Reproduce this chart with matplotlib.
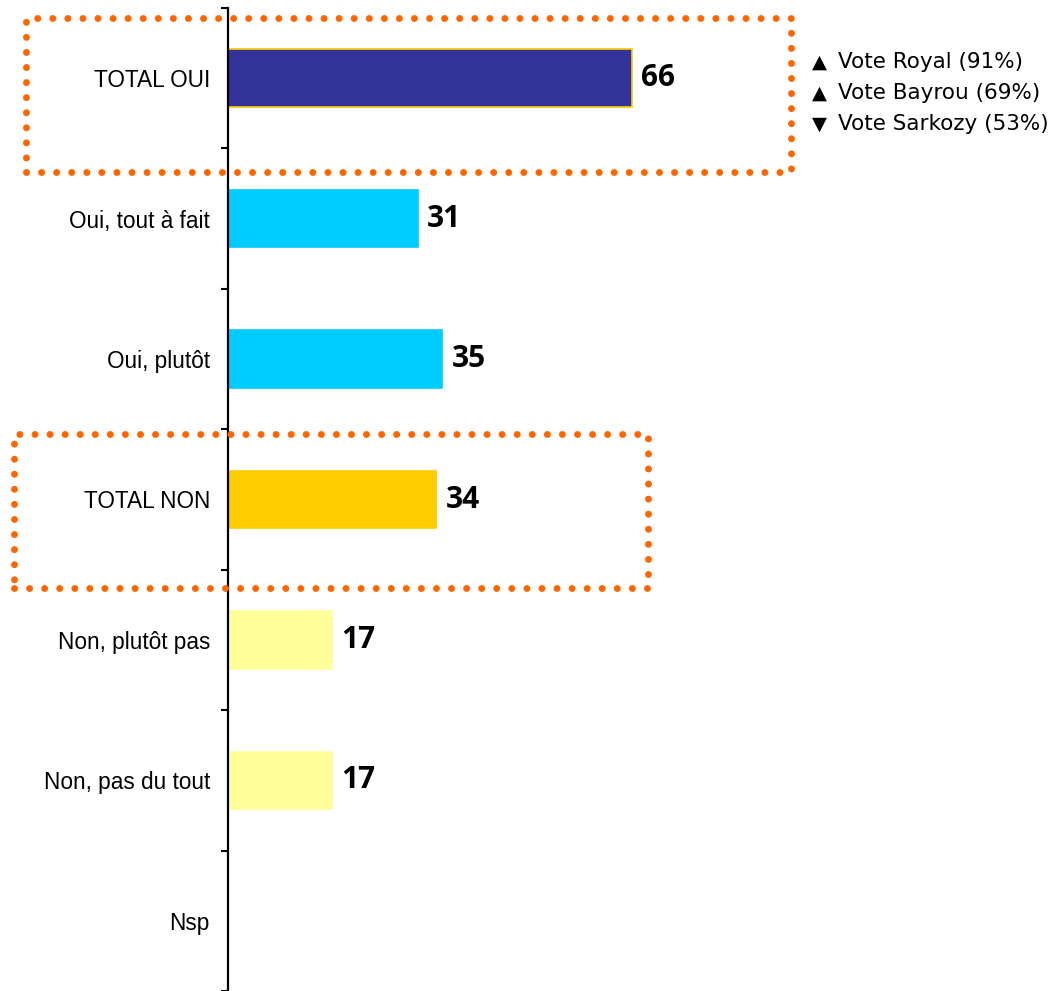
import matplotlib
matplotlib.use('Agg')
import matplotlib.pyplot as plt
from matplotlib.patches import Rectangle
import numpy as np

# data
categories = ['TOTAL OUI', 'Oui, tout à fait', 'Oui, plutôt', 'TOTAL NON',
              'Non, plutôt pas', 'Non, pas du tout', 'Nsp']
values = [66, 31, 35, 34, 17, 17, None]
colors = ['#333399', '#00CCFF', '#00CCFF', '#FFCC00', '#FFFF99', '#FFFF99', '#FFFF99']
edges = ['#FFCC00', '#00CCFF', '#00CCFF', '#FFCC00', '#FFFF99', '#FFFF99', '#FFFF99']
legend_items = [('▲', 'Vote Royal (91%)'), ('▲', 'Vote Bayrou (69%)'), ('▼', 'Vote Sarkozy (53%)')]

W, H = 1055, 991
fig = plt.figure(figsize=(W / 100, H / 100), dpi=100)
ax = fig.add_axes([228 / W, 0, 1 - 228 / W, 1 - 8 / H])

y = np.arange(len(categories))
for i, v in enumerate(values):
    if v is None:
        continue
    ax.barh(y[i], v, height=0.41, color=colors[i], edgecolor=edges[i], linewidth=1.2)
    ax.text(v + 1.5, y[i], str(v), va='center', ha='left', fontsize=21.5,
            fontweight='bold', family=['Open Sans', 'DejaVu Sans'])

ax.set_xlim(0, 135)
ax.set_ylim(len(categories) - 0.5, -0.5)

for s in ['top', 'right', 'bottom']:
    ax.spines[s].set_visible(False)
ax.spines['left'].set_linewidth(1.6)
ax.set_xticks([])

# ticks at category boundaries, labels at centers
ax.set_yticks(np.arange(-0.5, len(categories)))
ax.set_yticklabels([])
ax.tick_params(axis='y', which='major', length=5, width=1.5, direction='out')
ax.set_yticks(y, minor=True)
ax.set_yticklabels(categories, minor=True, fontsize=16.3,
                   family=['Liberation Sans', 'DejaVu Sans'])
ax.tick_params(axis='y', which='minor', length=0, pad=13)

# dotted highlight boxes
def dotted_box(x0, y0, x1, y1):
    r = Rectangle((x0 / W, 1 - y1 / H), (x1 - x0) / W, (y1 - y0) / H,
                  transform=fig.transFigure, fill=False, edgecolor='#FF6600',
                  linewidth=5, linestyle=(0, (0.01, 2.16)))
    r.set_capstyle('round')
    fig.add_artist(r)

dotted_box(26, 18, 791, 172)
dotted_box(14, 434, 648, 588)

# legend text
for k, (sym, txt) in enumerate(legend_items):
    yy = 1 - (62 + 31 * k) / H
    fig.text(812 / W, yy, sym, fontsize=14, va='center', ha='left', family='DejaVu Sans')
    fig.text(838 / W, yy, txt, fontsize=15.5, va='center', ha='left',
             family='DejaVu Sans')

fig.savefig('out.png', dpi=100)
